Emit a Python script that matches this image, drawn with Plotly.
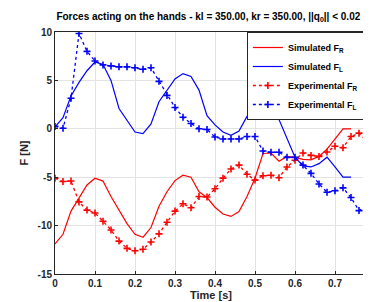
import plotly.graph_objects as go

t_sim = [round(0.02 * i, 2) for i in range(38)]  # 0 .. 0.74
t_exp = [round(0.02 * i, 2) for i in range(40)]  # 0 .. 0.78

sim_FR = [-11.9, -10.9, -8.5, -7.1, -5.8, -5.1, -5.4, -7.0, -8.4, -9.8,
          -10.9, -11.2, -10.2, -8.0, -6.5, -5.35, -4.8, -5.0, -6.5, -7.1,
          -8.1, -8.8, -9.05, -8.55, -7.0, -5.1, -2.55, -2.5, -3.35, -2.85,
          -2.95, -3.15, -3.2, -2.85, -2.1, -1.05, 0.0, 0.0]
sim_FL = [0.2, 1.15, 3.4, 4.8, 6.0, 6.9, 6.65, 5.0, 2.1, 0.85,
          -0.33, -0.5, 0.5, 2.8, 4.0, 5.15, 5.7, 5.4, 4.0, 1.35,
          0.4, -0.33, -0.67, -0.23, 1.28, 1.35, 1.62, 1.62, 0.95, -0.9,
          -2.93, -3.83, -3.94, -3.6, -2.93, -3.94, -5.0, -5.0]
exp_FR = [-5.1, -5.45, -5.4, -7.55, -8.4, -8.7, -9.55, -10.45, -11.6, -12.35,
          -12.6, -12.45, -11.7, -10.85, -9.65, -8.5, -7.75, -8.15, -7.0, -7.05,
          -6.2, -5.1, -4.15, -3.75, -4.7, -5.3, -4.85, -4.8, -5.05, -3.95,
          -3.25, -2.5, -2.75, -2.85, -2.4, -1.8, -1.95, -0.8, -0.45, -1.3]
exp_FL = [0.25, 0.05, 3.15, 9.85, 8.0, 7.0, 6.6, 6.5, 6.4, 6.4,
          6.3, 6.15, 6.3, 4.9, 3.45, 2.2, 1.2, 0.55, 0.0, -0.07,
          -0.85, -1.05, -1.05, -1.05, -0.8, -0.8, -2.3, -2.42, -2.42, -2.95,
          -2.95, -3.75, -4.6, -5.7, -6.55, -6.4, -6.1, -7.1, -8.45, -7.9]

title_text = "Forces acting on the hands - kl = 350.00, kr = 350.00, ||q<sub>0</sub>|| < 0.02"
x_ticks = [0, 0.1, 0.2, 0.3, 0.4, 0.5, 0.6, 0.7]
y_ticks = [-15, -10, -5, 0, 5, 10]

RED = "#ff0000"
BLUE = "#0000ff"
FONT = "Liberation Sans, Arial"

fig = go.Figure()
fig.add_trace(go.Scatter(x=t_sim, y=sim_FR, mode="lines", name="Simulated F<sub>R</sub>",
                         line=dict(color=RED, width=1.2)))
fig.add_trace(go.Scatter(x=t_sim, y=sim_FL, mode="lines", name="Simulated F<sub>L</sub>",
                         line=dict(color=BLUE, width=1.2)))
fig.add_trace(go.Scatter(x=t_exp, y=exp_FR, mode="lines+markers", name="Experimental F<sub>R</sub>",
                         line=dict(color=RED, width=1.3, dash="dot"),
                         marker=dict(symbol="cross-thin", size=5, line=dict(color=RED, width=1.6))))
fig.add_trace(go.Scatter(x=t_exp, y=exp_FL, mode="lines+markers", name="Experimental F<sub>L</sub>",
                         line=dict(color=BLUE, width=1.3, dash="dot"),
                         marker=dict(symbol="cross-thin", size=5, line=dict(color=BLUE, width=1.6))))

axis_common = dict(showgrid=True, gridcolor="#e3e3e3", gridwidth=1, zeroline=False,
                   showline=True, linecolor="#262626", linewidth=1, mirror=True,
                   ticks="inside", ticklen=3, tickcolor="#262626",
                   tickfont=dict(family=FONT, size=10, color="#262626", weight="bold"))

fig.update_layout(
    width=371, height=302,
    margin=dict(l=47, r=11, t=24, b=31),
    plot_bgcolor="white", paper_bgcolor="white",
    title=dict(text=title_text, x=0.54, xanchor="center", y=0.985, yanchor="top",
               font=dict(family=FONT, size=10, color="black", weight="bold")),
    xaxis=dict(range=[0, 0.78], tickvals=x_ticks, ticktext=[str(v) for v in x_ticks],
               title=dict(text="Time [s]", standoff=2,
                          font=dict(family=FONT, size=11, color="#262626", weight="bold")),
               **axis_common),
    yaxis=dict(range=[-15, 10], tickvals=y_ticks, ticktext=[str(v) for v in y_ticks],
               title=dict(text="F [N]", standoff=6,
                          font=dict(family=FONT, size=11, color="#262626", weight="bold")),
               **axis_common),
    legend=dict(x=0.99, y=1.0, xanchor="right", yanchor="top",
                bgcolor="white", bordercolor="#262626", borderwidth=1,
                font=dict(family=FONT, size=9, color="black", weight="bold"),
                tracegroupgap=0, itemwidth=30),
    showlegend=True,
)

fig.write_html("out.html")
